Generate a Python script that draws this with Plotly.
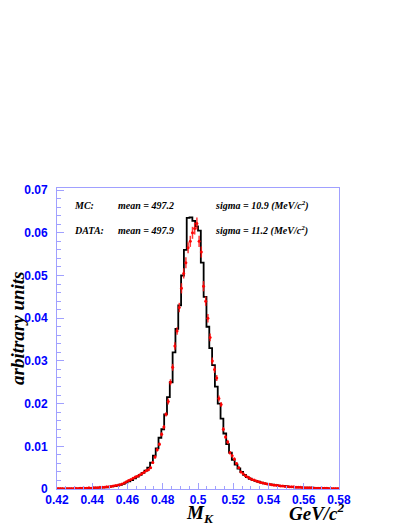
import numpy as np
import plotly.graph_objects as go

# histogram binning (GeV/c^2)
X_MIN, X_MAX = 0.42, 0.58
MC_BINS = 100
DATA_BINS = 128

# MC histogram contents, one value per bin
mc_values = [
    0.0001, 0.0001, 0.0001, 0.0001, 0.0001, 0.0001, 0.0001, 0.0001, 0.0002, 0.0002,
    0.0002, 0.0002, 0.0002, 0.0003, 0.0003, 0.0003, 0.0004, 0.0004, 0.0005, 0.0006,
    0.0007, 0.0008, 0.0010, 0.0012, 0.0015, 0.0018, 0.0021, 0.0025, 0.0029, 0.0033,
    0.0038, 0.0043, 0.0050, 0.0062, 0.0078, 0.0095, 0.0120, 0.0140, 0.0175, 0.0215,
    0.0250, 0.0320, 0.0375, 0.0430, 0.0500, 0.0560, 0.0635, 0.0636, 0.0628, 0.0615,
    0.0605, 0.0530, 0.0450, 0.0380, 0.0330, 0.0290, 0.0240, 0.0200, 0.0165, 0.0130,
    0.0105, 0.0085, 0.0068, 0.0057, 0.0048, 0.0040, 0.0033, 0.0028, 0.0024, 0.0021,
    0.0019, 0.0017, 0.0015, 0.0013, 0.0012, 0.0011, 0.0010, 0.0009, 0.0008, 0.0007,
    0.0007, 0.0006, 0.0005, 0.0005, 0.0004, 0.0004, 0.0004, 0.0003, 0.0003, 0.0003,
    0.0003, 0.0002, 0.0002, 0.0002, 0.0002, 0.0002, 0.0001, 0.0001, 0.0001, 0.0001,
]

# data points (bin contents and errors)
data_values = [
    0.0001, 0.0001, 0.0001, 0.0000, 0.0001, 0.0001, 0.0001, 0.0001, 0.0002, 0.0001,
    0.0002, 0.0002, 0.0002, 0.0002, 0.0003, 0.0002, 0.0003, 0.0003, 0.0003, 0.0004,
    0.0004, 0.0004, 0.0005, 0.0005, 0.0006, 0.0007, 0.0008, 0.0009, 0.0010, 0.0012,
    0.0014, 0.0017, 0.0020, 0.0022, 0.0025, 0.0028, 0.0030, 0.0033, 0.0036, 0.0039,
    0.0043, 0.0045, 0.0050, 0.0062, 0.0075, 0.0092, 0.0105, 0.0128, 0.0145, 0.0175,
    0.0205, 0.0250, 0.0285, 0.0335, 0.0370, 0.0425,
    0.0470, 0.0505, 0.0530, 0.0565, 0.0580, 0.0600, 0.0610, 0.0622, 0.0580, 0.0555,
    0.0475, 0.0440, 0.0400, 0.0355, 0.0300, 0.0280, 0.0260, 0.0212, 0.0198, 0.0140,
    0.0122, 0.0110, 0.0085, 0.0078, 0.0070, 0.0060, 0.0050, 0.0040, 0.0036, 0.0031,
    0.0028, 0.0025, 0.0022, 0.0021, 0.0019, 0.0017, 0.0015, 0.0014, 0.0013, 0.0012,
    0.0011, 0.0010, 0.0009, 0.0009, 0.0008, 0.0007, 0.0007, 0.0006, 0.0006, 0.0005,
    0.0005, 0.0005, 0.0004, 0.0004, 0.0004, 0.0003, 0.0003, 0.0003, 0.0003, 0.0003,
    0.0002, 0.0002, 0.0002, 0.0002, 0.0002, 0.0002, 0.0002, 0.0001, 0.0001, 0.0001,
    0.0001, 0.0001,
]

data_errors = [
    0.00005, 0.00005, 0.00005, 0.00003, 0.00005, 0.00005, 0.00005, 0.00005, 0.00006, 0.00005,
    0.00006, 0.00006, 0.00006, 0.00006, 0.00008, 0.00006, 0.00008, 0.00008, 0.00008, 0.0001,
    0.0001, 0.0001, 0.0001, 0.0001, 0.00012, 0.00012, 0.00012, 0.00012, 0.00015, 0.00015,
    0.00015, 0.0002, 0.0002, 0.0002, 0.0002, 0.00026, 0.00026, 0.00026, 0.00026, 0.00026,
    0.0003, 0.0003, 0.0003, 0.0003, 0.0004, 0.0004, 0.0004, 0.0005, 0.0005, 0.0005,
    0.0007, 0.0007, 0.0008, 0.0009, 0.0009, 0.0011,
    0.0012, 0.0012, 0.0013, 0.0013, 0.0013, 0.0014, 0.0014, 0.0014, 0.0013, 0.0013,
    0.0012, 0.0011, 0.0010, 0.0009, 0.0008, 0.0008, 0.0007, 0.0007, 0.0006, 0.0005,
    0.0005, 0.0005, 0.0004, 0.0004, 0.0004, 0.0003, 0.0003, 0.0003, 0.00026, 0.00026,
    0.00025, 0.0002, 0.0002, 0.0002, 0.0002, 0.0002, 0.00018, 0.00016, 0.00016, 0.00015,
    0.00015, 0.00014, 0.00013, 0.00013, 0.00012, 0.00012, 0.00012, 0.0001, 0.0001, 0.0001,
    0.0001, 0.0001, 0.0001, 0.0001, 0.0001, 0.00008, 0.00008, 0.00008, 0.00008, 0.00008,
    0.00006, 0.00006, 0.00006, 0.00006, 0.00006, 0.00006, 0.00006, 0.00005, 0.00005, 0.00005,
    0.00005, 0.00005,
]

mc_label = ["MC:", "mean = 497.2", "sigma = 10.9 (MeV/c<sup>2</sup>)"]
data_label = ["DATA:", "mean = 497.9", "sigma = 11.2 (MeV/c<sup>2</sup>)"]

mc_edges = np.linspace(X_MIN, X_MAX, MC_BINS + 1)
data_edges = np.linspace(X_MIN, X_MAX, DATA_BINS + 1)
data_centers = 0.5 * (data_edges[:-1] + data_edges[1:])
data_half_width = 0.5 * (X_MAX - X_MIN) / DATA_BINS

AXIS_COLOR = "#a0a0ff"
TICK_FONT = dict(family="Liberation Sans", size=12, color="#0000ff", weight="bold")
SERIF = "Liberation Serif"

fig = go.Figure()

fig.add_trace(go.Scatter(
    x=mc_edges,
    y=mc_values + [mc_values[-1]],
    mode="lines",
    line=dict(color="black", width=1.8, shape="hv"),
    hoverinfo="skip",
))

fig.add_trace(go.Scatter(
    x=data_centers,
    y=data_values,
    mode="markers",
    marker=dict(color="rgba(255,0,0,0.9)", size=3),
    error_y=dict(type="data", array=data_errors, color="rgba(255,20,20,0.85)",
                 thickness=1.5, width=0),
    error_x=dict(type="constant", value=data_half_width, color="rgba(255,20,20,0.85)",
                 thickness=1.2, width=0),
    hoverinfo="skip",
))

# the page body adds an 8px margin, so the figure is drawn 8px in
PAGE = 8
W, H = 407 - PAGE, 527 - PAGE
# plot area in window pixels
L, R, T, B = 57, 339, 188, 489


def px_x(p):
    return (p - L) / (R - L)


def px_y(p):
    return (B - p) / (B - T)


annotations = []
for row, y in ((mc_label, 205), (data_label, 230)):
    for txt, x in zip(row, (72, 116, 213)):
        annotations.append(dict(
            text=txt, x=px_x(x), y=px_y(y), xref="paper", yref="paper",
            xanchor="left", yanchor="middle", showarrow=False,
            font=dict(family=SERIF, size=10, color="black", weight="bold", style="italic"),
        ))

annotations.append(dict(
    text="arbitrary units", x=px_x(17), y=px_y(328), xref="paper", yref="paper",
    xanchor="center", yanchor="middle", textangle=-90, showarrow=False,
    font=dict(family=SERIF, size=19, color="black", weight="bold", style="italic"),
))
annotations.append(dict(
    text="M<sub>K</sub>", x=px_x(184), y=px_y(514), xref="paper", yref="paper",
    xanchor="left", yanchor="middle", showarrow=False,
    font=dict(family=SERIF, size=19, color="black", weight="bold", style="italic"),
))
annotations.append(dict(
    text="GeV/c<sup>2</sup>", x=px_x(347), y=px_y(512), xref="paper", yref="paper",
    xanchor="right", yanchor="middle", showarrow=False,
    font=dict(family=SERIF, size=19, color="black", weight="bold", style="italic"),
))

fig.update_layout(
    width=W,
    height=H,
    autosize=False,
    margin=dict(l=L - PAGE, r=407 - R, t=T - PAGE, b=527 - B),
    paper_bgcolor="white",
    plot_bgcolor="white",
    showlegend=False,
    annotations=annotations,
    xaxis=dict(
        range=[X_MIN, X_MAX],
        dtick=0.02,
        tick0=0.42,
        tickformat="~g",
        ticks="inside",
        ticklen=6,
        tickcolor=AXIS_COLOR,
        showline=True,
        linecolor=AXIS_COLOR,
        linewidth=1,
        mirror=True,
        showgrid=False,
        zeroline=False,
        tickfont=TICK_FONT,
        minor=dict(dtick=0.005, ticks="inside", ticklen=3, tickcolor=AXIS_COLOR),
    ),
    yaxis=dict(
        range=[0, 0.0705],
        dtick=0.01,
        tickformat="~g",
        ticks="inside",
        ticklen=7,
        tickcolor=AXIS_COLOR,
        showline=True,
        linecolor=AXIS_COLOR,
        linewidth=1,
        mirror=True,
        showgrid=False,
        zeroline=False,
        tickfont=TICK_FONT,
        ticklabelstandoff=6,
        minor=dict(dtick=0.002, ticks="inside", ticklen=4, tickcolor=AXIS_COLOR),
    ),
)

fig.write_html("out.html")
